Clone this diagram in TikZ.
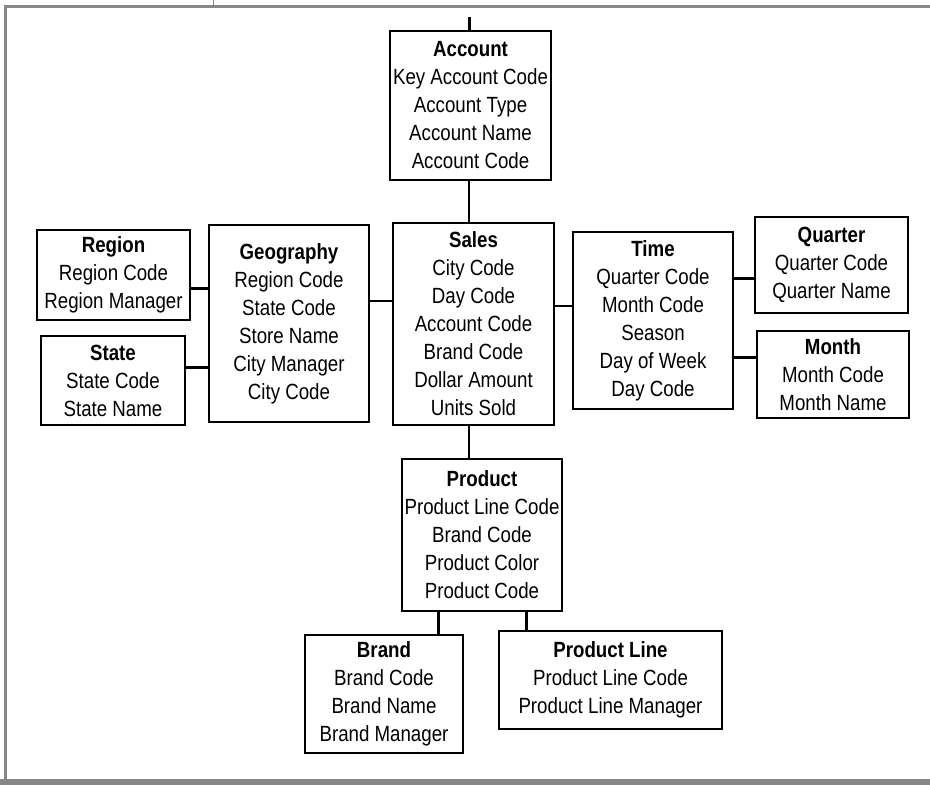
\documentclass[tikz,border=0pt]{standalone}
\usepackage{fontspec}
\setmainfont{Liberation Sans}[FakeStretch=0.85]
\definecolor{framegray}{HTML}{878787}
\begin{document}
\begin{tikzpicture}[x=1pt,y=-1pt,
  entity/.style={draw, line width=1.6pt, align=center, inner sep=0pt,
    font=\fontsize{22}{28}\selectfont},
  thinlink/.style={line width=1.4pt},
  thicklink/.style={line width=3pt},
  framerule/.style={draw=framegray, line width=3pt}]
\useasboundingbox (0,0) rectangle (930,785);

% page frame
\draw[framerule] (4,6) -- (930,6);
\draw[framerule] (5.5,6) -- (5.5,779);
\fill[framegray] (0,779) rectangle (930,785);
\draw[draw=framegray, line width=1pt] (213,0) -- (213,5);

% entities
\node[entity, minimum width=161, minimum height=149] (acc) at (470.5,105.5)
  {\textbf{Account}\\Key Account Code\\Account Type\\Account Name\\Account Code};
\node[entity, minimum width=161, minimum height=202] (sales) at (473.5,324)
  {\textbf{Sales}\\City Code\\Day Code\\Account Code\\Brand Code\\Dollar Amount\\Units Sold};
\node[entity, minimum width=160, minimum height=197] (geo) at (289,323.5)
  {\textbf{Geography}\\Region Code\\State Code\\Store Name\\City Manager\\City Code};
\node[entity, minimum width=153, minimum height=90] (region) at (113.5,275)
  {\textbf{Region}\\Region Code\\Region Manager};
\node[entity, minimum width=144, minimum height=89] (state) at (113,380.5)
  {\textbf{State}\\State Code\\State Name};
\node[entity, minimum width=160, minimum height=177] (time) at (653,320.5)
  {\textbf{Time}\\Quarter Code\\Month Code\\Season\\Day of Week\\Day Code};
\node[entity, minimum width=153, minimum height=96] (quarter) at (831.5,265)
  {\textbf{Quarter}\\Quarter Code\\Quarter Name};
\node[entity, minimum width=152, minimum height=87] (month) at (833,374.5)
  {\textbf{Month}\\Month Code\\Month Name};
\node[entity, minimum width=160, minimum height=152] (product) at (482,535)
  {\textbf{Product}\\Product Line Code\\Brand Code\\Product Color\\Product Code};
\node[entity, minimum width=158, minimum height=118] (brand) at (384,694)
  {\textbf{Brand}\\Brand Code\\Brand Name\\Brand Manager};
\node[entity, minimum width=223, minimum height=98] (pline) at (610.5,680)
  {\textbf{Product Line}\\Product Line Code\\Product Line Manager};

% connector guide positions
\coordinate (acctop) at (469,17);
\coordinate (vmain) at (469,0);
\coordinate (hgeo) at (0,301);
\coordinate (hregion) at (0,288);
\coordinate (hstate) at (0,367);
\coordinate (htime) at (0,306);
\coordinate (hquarter) at (0,278);
\coordinate (hmonth) at (0,357);
\coordinate (vbrand) at (438,0);
\coordinate (vpline) at (526,0);

% connectors
\draw[thicklink] (acctop) -- (acctop |- acc.north);
\draw[thinlink] (vmain |- acc.south) -- (vmain |- sales.north);
\draw[thinlink] (vmain |- sales.south) -- (vmain |- product.north);
\draw[thinlink] (hgeo -| geo.east) -- (hgeo -| sales.west);
\draw[thicklink] (hregion -| region.east) -- (hregion -| geo.west);
\draw[thicklink] (hstate -| state.east) -- (hstate -| geo.west);
\draw[thinlink] (htime -| sales.east) -- (htime -| time.west);
\draw[thicklink] (hquarter -| time.east) -- (hquarter -| quarter.west);
\draw[thicklink] (hmonth -| time.east) -- (hmonth -| month.west);
\draw[thicklink] (vbrand |- product.south) -- (vbrand |- brand.north);
\draw[thicklink] (vpline |- product.south) -- (vpline |- pline.north);
\end{tikzpicture}
\end{document}
